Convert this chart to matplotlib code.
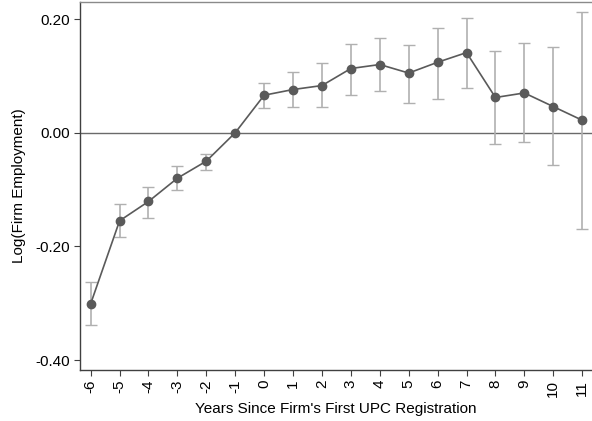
import matplotlib
matplotlib.use("Agg")
import matplotlib.pyplot as plt
import numpy as np

plt.rcParams['font.family'] = ['Liberation Sans', 'DejaVu Sans']

# Event-time coefficients and 95% CI bounds
years = [-6, -5, -4, -3, -2, -1, 0, 1, 2, 3, 4, 5, 6, 7, 8, 9, 10, 11]
coef = [-0.301, -0.155, -0.121, -0.080, -0.050, 0.000, 0.066, 0.076, 0.083,
        0.113, 0.120, 0.105, 0.124, 0.141, 0.062, 0.070, 0.046, 0.022]
ci_hi = [-0.262, -0.126, -0.095, -0.059, -0.037, 0.000, 0.087, 0.106, 0.122,
         0.157, 0.166, 0.155, 0.185, 0.202, 0.143, 0.158, 0.150, 0.212]
ci_lo = [-0.339, -0.184, -0.150, -0.101, -0.065, 0.000, 0.044, 0.046, 0.045,
         0.067, 0.073, 0.053, 0.059, 0.078, -0.019, -0.017, -0.057, -0.169]
yticks = [-0.40, -0.20, 0.00, 0.20]

coef = np.array(coef)
err = [coef - np.array(ci_lo), np.array(ci_hi) - coef]

fig = plt.figure(figsize=(5.92, 4.21), dpi=100)
ax = fig.add_axes([0.1351, 0.1211, 0.8649, 0.8741])

ax.axhline(0, color="#6a6a6a", lw=1.0, zorder=1)

# error bars, skip the reference year (no interval)
mask = np.array(ci_hi) != np.array(ci_lo)
ax.errorbar(np.array(years)[mask], coef[mask],
            yerr=[err[0][mask], err[1][mask]],
            fmt="none", ecolor="#b0b0b0", elinewidth=1.2, capsize=4.5,
            capthick=1.0, zorder=2)
ax.plot(years, coef, color="#5a5a5a", lw=1.2, marker="o", ms=6,
        markerfacecolor="#5a5a5a", markeredgecolor="#5a5a5a", zorder=3)

ax.set_xlim(-6.37, 11.34)
ax.set_ylim(-0.4176, 0.230)
ax.set_xticks(years)
ax.set_xticklabels([str(y) for y in years], rotation=90)
ax.set_yticks(yticks)
ax.set_yticklabels(["%.2f" % v for v in yticks])

for s in ["left", "bottom", "top"]:
    ax.spines[s].set_color("#404040")
    ax.spines[s].set_linewidth(1.0)
ax.spines["top"].set_color("#8a8a8a")
ax.spines["right"].set_visible(False)

ax.tick_params(axis="both", direction="out", length=4, width=0.8,
               color="#404040", labelsize=11, pad=3)

ax.set_xlabel("Years Since Firm's First UPC Registration", fontsize=11,
              labelpad=4)
ax.set_ylabel("Log(Firm Employment)", fontsize=11, labelpad=7)

plt.savefig("out.png", dpi=100)
